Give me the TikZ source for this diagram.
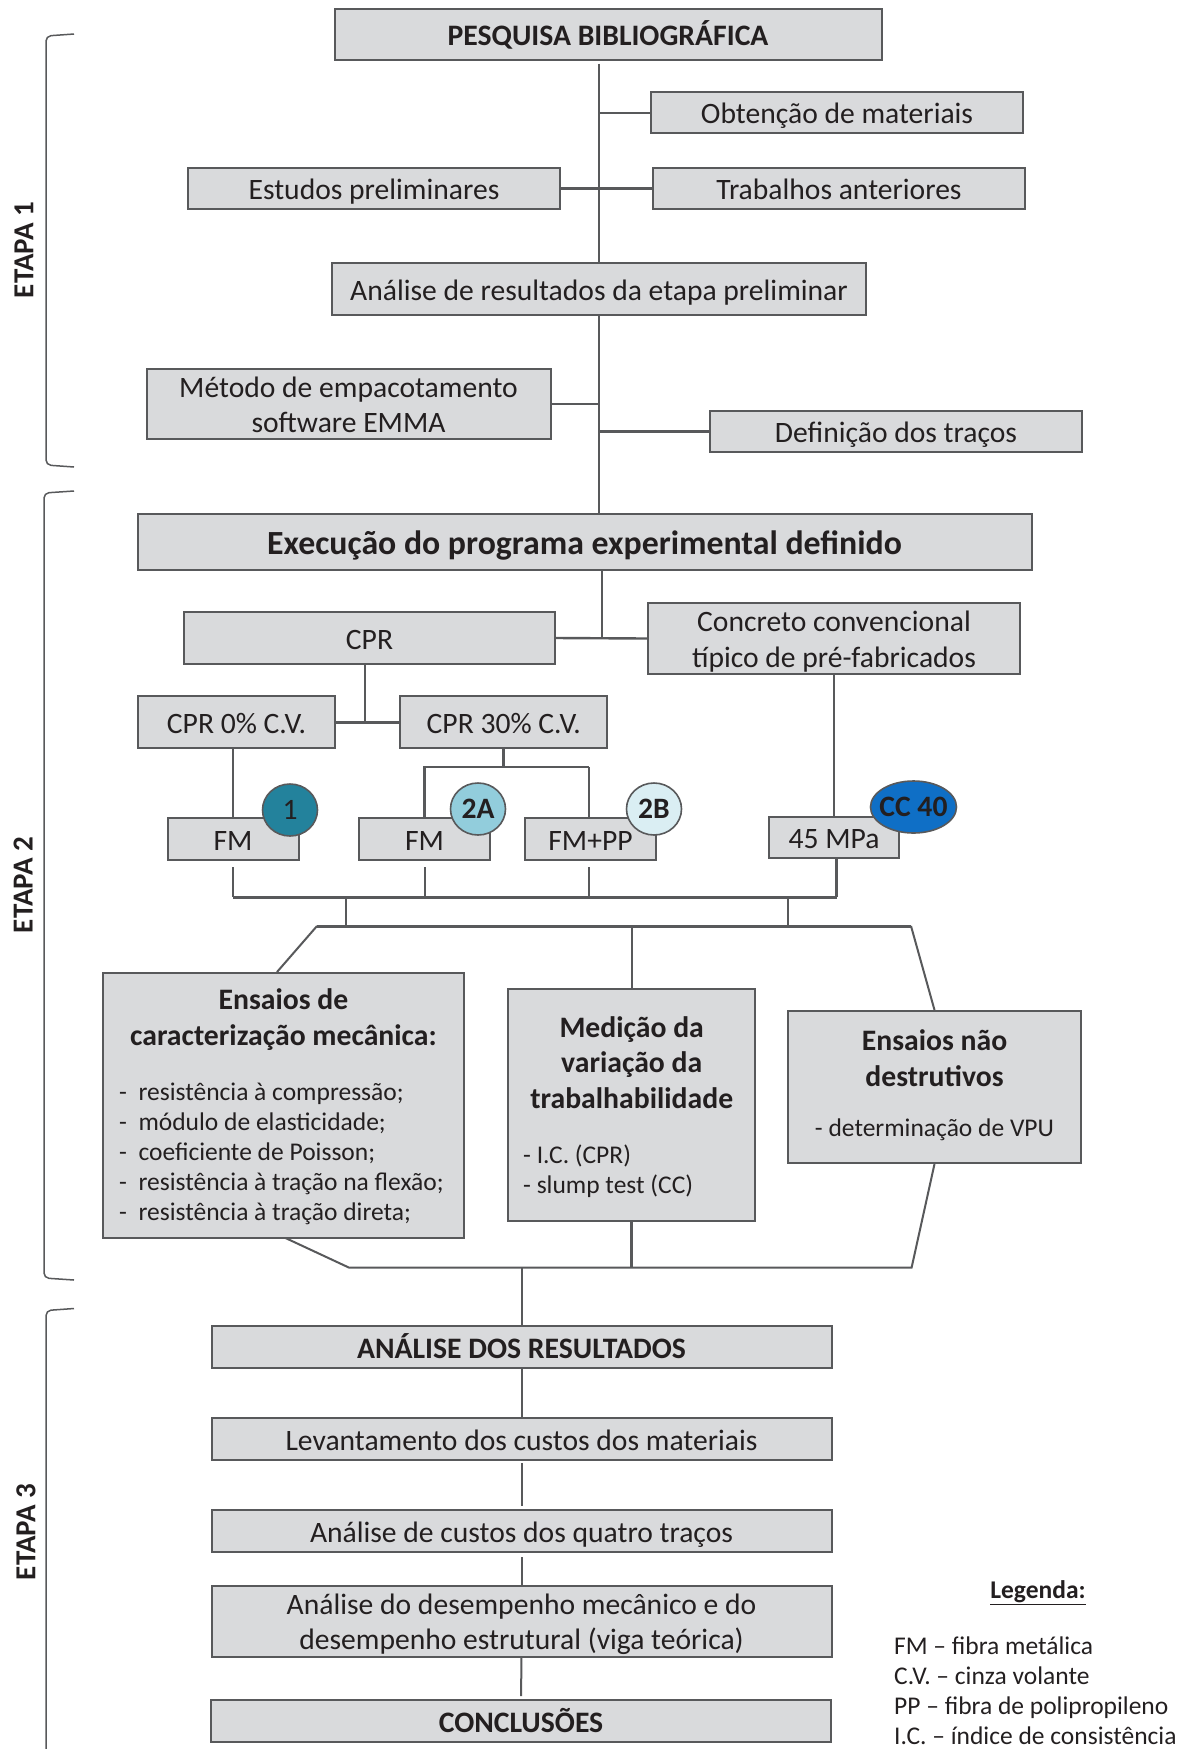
\documentclass[tikz,border=0pt]{standalone}
\usepackage{fontspec}
\setmainfont{Carlito}
\usetikzlibrary{positioning,shapes.geometric}
\definecolor{boxgray}{HTML}{D9DADC}
\definecolor{linegray}{HTML}{58595B}
\definecolor{inkgray}{HTML}{231F20}
\definecolor{badgeum}{HTML}{23829C}
\definecolor{badgedoisa}{HTML}{92CDDC}
\definecolor{badgedoisb}{HTML}{DAEEF3}
\definecolor{badgecc}{HTML}{0F6FC6}
\tikzset{
  box/.style={draw=linegray,fill=boxgray,line width=2pt,inner sep=0pt,align=center,
              text=inkgray,text height=22pt,text depth=0pt,font=\fontsize{29.6}{35.7}\selectfont},
  duasl/.style={text height=57.7pt,text depth=0pt},
  bigbox/.style={box,font=\fontsize{29.7}{35.7}\selectfont\bfseries},
  badge/.style={ellipse,draw=linegray,line width=1.6pt,inner sep=0pt,minimum width=55pt,
                minimum height=52pt,text=inkgray,font=\fontsize{29.6}{34}\selectfont\bfseries},
  titulo/.style={align=center,inner sep=0pt,text=inkgray,font=\fontsize{29.7}{35.7}\selectfont\bfseries},
  lista/.style={align=left,inner sep=0pt,text=inkgray,font=\fontsize{25.5}{30}\selectfont},
  etapa/.style={rotate=90,inner sep=0pt,text=inkgray,font=\fontsize{29}{34}\selectfont\bfseries},
  fino/.style={line width=2pt},
  grosso/.style={line width=3pt},
  chave/.style={draw=linegray,line width=1.5pt,rounded corners=5pt}
}
\begin{document}
\begin{tikzpicture}[x=1pt,y=-1pt,draw=linegray,line width=2.4pt,node distance=92pt]
        \useasboundingbox (0,0) rectangle (1184,1749);

        \node[bigbox,minimum width=547pt,minimum height=51pt] (pesquisa) at (608,34.5) {PESQUISA BIBLIOGRÁFICA};
        \node[box,minimum width=372pt,minimum height=41pt] (obtencao) at (837,112.5) {Obtenção de materiais};
        \node[box,minimum width=372pt,minimum height=41pt] (estudos) at (374,188) {Estudos preliminares};
        \node[box,minimum width=372pt,minimum height=41pt] (trabalhos) at (839,188) {Trabalhos anteriores};
        \node[box,minimum width=534pt,minimum height=52pt] (analise) at (599,289) {Análise de resultados da etapa preliminar};
        \node[box,duasl,minimum width=404pt,minimum height=70pt] (metodo) at (348.5,404) {Método de empacotamento\\software EMMA};
        \node[box,minimum width=372pt,minimum height=41pt] (tracos) at (896,431) {Definição dos traços};
        \node[bigbox,font=\fontsize{33.8}{40}\selectfont\bfseries,text height=24pt,minimum width=894pt,minimum height=56pt] (execucao) at (584.5,542) {Execução do programa experimental definido};

        \node[box,minimum width=371pt,minimum height=52pt] (cpr) at (369.5,638) {CPR};
        \node[box,duasl,minimum width=372pt,minimum height=71pt] (concreto) at (834,638.5) {Concreto convencional\\típico de pré-fabricados};
        \node[box,minimum width=197pt,minimum height=52pt] (cprzero) at (236.5,722) {CPR 0\% C.V.};
        \node[box,minimum width=207pt,minimum height=52pt] (cprtrinta) at (503.75,722) {CPR 30\% C.V.};
        \node[box,minimum width=131pt,minimum height=42pt] (fma) at (233,839) {FM};
        \node[box,minimum width=131pt,minimum height=42pt] (fmb) at (424.5,839) {FM};
        \node[box,minimum width=131pt,minimum height=42pt] (fmpp) at (590.5,839) {FM+PP};
        \node[box,minimum width=130pt,minimum height=41pt] (mpa) at (834,837.5) {45 MPa};

        \node[badge,fill=badgeum,font=\fontsize{29.6}{34}\selectfont] (uma) at (290,810) {1};
        \node[badge,fill=badgedoisa] (doisa) at (478,809) {2A};
        \node[badge,fill=badgedoisb] (doisb) at (654,809) {2B};
        \node[badge,fill=badgecc,draw=linegray,inner xsep=-9pt,minimum width=86pt] (cc) at (913.5,807) {CC 40};

        \node[box,minimum width=361pt,minimum height=265pt] (ensaios) at (283.5,1105.5) {};
        \node[box,minimum width=247pt,minimum height=232pt] (medicao) at (631.7,1105) {};
        \node[box,minimum width=293pt,minimum height=152pt] (naodestr) at (934.5,1087) {};
        \node[titulo] (ensaiostit) at (283.5,1019.5) {Ensaios de\\caracterização mecânica:};
        \node[lista,anchor=west] (ensaioslis) at (118,1154) {-\ \ resistência à compressão;\\-\ \ módulo de elasticidade;\\-\ \ coeficiente de Poisson;\\-\ \ resistência à tração na flexão;\\-\ \ resistência à tração direta;};
        \node[titulo] (medicaotit) at (631.7,1062.5) {Medição da\\variação da\\trabalhabilidade};
        \node[lista,anchor=west] (medicaolis) at (522,1171) {- I.C. (CPR)\\- slump test (CC)};
        \node[titulo] (naotit) at (934.5,1058) {Ensaios não\\destrutivos};
        \node[lista] (naolis) at (934.5,1130) {- determinação de VPU};

        \node[bigbox,minimum width=620pt,minimum height=42pt] (resultados) at (521.5,1347) {ANÁLISE DOS RESULTADOS};
        \node[box,minimum width=620pt,minimum height=42pt] (levantamento) [below of=resultados] {Levantamento dos custos dos materiais};
        \node[box,minimum width=620pt,minimum height=42pt] (custos) [below of=levantamento] {Análise de custos dos quatro traços};
        \node[box,duasl,minimum width=620pt,minimum height=71pt] (desempenho) at (521.5,1621) {Análise do desempenho mecânico e do\\desempenho estrutural (viga teórica)};
        \node[bigbox,minimum width=620pt,minimum height=42pt] (conclusoes) at (521,1721) {CONCLUSÕES};

        \node[etapa] (etapaum) at (24,250) {ETAPA 1};
        \node[etapa] (etapadois) at (23,885) {ETAPA 2};
        \node[etapa] (etapatres) at (26,1532) {ETAPA 3};

        \node[titulo,font=\fontsize{25.5}{30}\selectfont\bfseries] (legenda) at (1038,1593) {\underline{Legenda:}};
        \node[lista,anchor=north west] (legendalis) at (893,1636) {FM -- fibra metálica\\C.V. -- cinza volante\\PP -- fibra de polipropileno\\I.C. -- índice de consistência};

        \coordinate (topo) at (599,63.5);
        \coordinate (jexec) at (602,638);
        \coordinate (jcpr) at (365,722);
        \coordinate (jfm) at (503.75,767);
        \coordinate (jpp) at (588.5,767);
        \coordinate (busl) at (233,897);
        \coordinate (busr) at (836.5,897);
        \coordinate (buslat) at (317,926);
        \coordinate (busrat) at (911,926);
        \coordinate (sa) at (346,926);
        \coordinate (sb) at (788,926);
        \coordinate (dsup) at (277,972);
        \coordinate (dinf) at (285.5,1238);
        \coordinate (basel) at (349,1267.6);
        \coordinate (baser) at (911.6,1267.6);

        \path (topo) edge[fino] (analise.north)
              (obtencao.west) edge[fino] (analise.north |- obtencao.west)
              (estudos.east) edge[grosso] (trabalhos.west)
              (analise.south) edge (analise.south |- execucao.north)
              (metodo.east) edge[fino] (analise.south |- metodo.east)
              (tracos.west) edge[grosso] (analise.south |- tracos.west)
              (jexec |- execucao.south) edge (jexec)
              (cpr.east) edge (concreto.west)
              (jcpr |- cpr.south) edge (jcpr)
              (cprzero.east) edge[grosso] (cprtrinta.west)
              (fma.north |- cprzero.south) edge[fino] (fma.north)
              (cprtrinta.south) edge[grosso] (jfm)
              (concreto.south) edge (mpa.north);

        \draw (fmb.north) -- (fmb.north |- jfm) -- (jpp);
        \draw[fino] (jpp) -- (jpp |- fmpp.north);

        \path (fma.south) edge[shorten <=6pt] (fma.south |- busl)
              (fmb.south) edge[fino,shorten <=6pt] (fmb.south |- busl)
              (jpp |- fmpp.south) edge[fino,shorten <=6pt] (jpp |- busl)
              (busr |- mpa.south) edge (busr)
              (busl) edge[grosso] (busr)
              (sa |- busl) edge (sa)
              (sb |- busl) edge[fino] (sb)
              (buslat) edge[grosso] (busrat)
              (medicao.north |- buslat) edge[fino] (medicao.north)
              (buslat) edge[fino] (dsup)
              (busrat) edge[fino] (naodestr.north);

        \draw[fino] (dinf) -- (basel) -- (baser) -- (naodestr.south);
        \path (medicao.south) edge[grosso] (medicao.south |- basel)
              (resultados.north |- basel) edge[fino] (resultados.north)
              (resultados.south) edge[fino] (levantamento.north)
              (levantamento.south) edge[fino,shorten <=2pt,shorten >=3pt] (custos.north)
              (custos.south) edge[fino,shorten <=4pt] (desempenho.north)
              (desempenho.south) edge[fino,shorten >=3pt] (conclusoes.north);

        \draw[chave] (74,34) -- (46,36) -- (46,465) -- (74,467);
        \draw[chave] (74,491) -- (44,493) -- (44,1278) -- (74,1280);
        \draw[chave] (74,1308.5) -- (46,1310.5) -- (46,1749);
\end{tikzpicture}
\end{document}
